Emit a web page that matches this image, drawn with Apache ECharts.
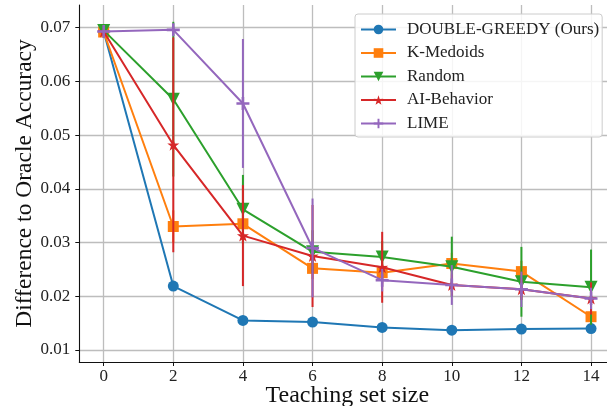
<!DOCTYPE html>
<html>
<head>
<meta charset="utf-8">
<script src="https://cdn.jsdelivr.net/npm/echarts@6/dist/echarts.min.js"></script>
<style>html,body{margin:0;padding:0;background:#fff}#c{width:607px;height:406px}</style>
</head>
<body>
<div id="c"></div>
<script>
// ---- data ----
const teachingSizes = [0, 2, 4, 6, 8, 10, 12, 14];
const xTicks = [0, 2, 4, 6, 8, 10, 12, 14];
const yTicks = [0.01, 0.02, 0.03, 0.04, 0.05, 0.06, 0.07];
const seriesNames = ['DOUBLE-GREEDY (Ours)', 'K-Medoids', 'Random', 'AI-Behavior', 'LIME'];
const doubleGreedy    = [0.0693, 0.0219, 0.0155, 0.0152, 0.0142, 0.0137, 0.0139, 0.0140];
const doubleGreedyErr = [0.0003, 0.0004, 0.0004, 0.0004, 0.0004, 0.0004, 0.0004, 0.0004];
const kMedoids        = [0.0692, 0.0330, 0.0335, 0.0252, 0.0244, 0.0261, 0.0246, 0.0162];
const kMedoidsErr     = [0.0003, 0.0030, 0.0030, 0.0020, 0.0020, 0.0020, 0.0020, 0.0006];
const random          = [0.0695, 0.0567, 0.0362, 0.0283, 0.0273, 0.0255, 0.0227, 0.0217];
const randomErr       = [0.0003, 0.0144, 0.0064, 0.0040, 0.0030, 0.0056, 0.0065, 0.0070];
const aiBehavior      = [0.0693, 0.0482, 0.0313, 0.0275, 0.0254, 0.0221, 0.0213, 0.0196];
const aiBehaviorErr   = [0.0003, 0.0200, 0.0094, 0.0095, 0.0066, 0.0020, 0.0020, 0.0030];
const lime            = [0.0693, 0.0696, 0.0559, 0.0290, 0.0230, 0.0221, 0.0213, 0.0196];
const limeErr         = [0.0003, 0.0005, 0.0120, 0.0092, 0.0021, 0.0037, 0.0033, 0.0020];

const means = [doubleGreedy, kMedoids, random, aiBehavior, lime];
const errs = [doubleGreedyErr, kMedoidsErr, randomErr, aiBehaviorErr, limeErr];
const colors = ['#1f77b4', '#ff7f0e', '#2ca02c', '#d62728', '#9467bd'];
const symbols = [
  'circle',
  'rect',
  'path://M0,0L10,0L5,9z',
  'path://M50,0L61.8,35.1L97.6,34.5L68.9,56.4L79.4,90.5L50,70L20.6,90.5L31.1,56.4L2.4,34.5L38.2,35.1z',
  'path://M4,0h2v4h4v2h-4v4h-2v-4h-4v-2h4z'
];
const symbolSizes = [11, 11, 13, 12, 13];

const serif = '"Liberation Serif", "DejaVu Serif", serif';
const series = [];
means.forEach((m, k) => {
  const c = colors[k];
  series.push({
    name: seriesNames[k] + ' err',
    type: 'custom',
    z: 2 + 2 * k,
    silent: true,
    data: teachingSizes.map((x, i) => [x, m[i] - errs[k][i], m[i] + errs[k][i]]),
    encode: { x: 0, y: [1, 2] },
    renderItem: function (params, api) {
      const a = api.coord([api.value(0), api.value(1)]);
      const b = api.coord([api.value(0), api.value(2)]);
      return { type: 'line', shape: { x1: a[0], y1: a[1], x2: b[0], y2: b[1] },
               style: { stroke: c, lineWidth: 2 } };
    }
  });
  series.push({
    name: seriesNames[k],
    type: 'line',
    z: 3 + 2 * k,
    data: teachingSizes.map((x, i) => [x, m[i]]),
    symbol: symbols[k],
    symbolSize: symbolSizes[k],
    showAllSymbol: true,
    lineStyle: { color: c, width: 2 },
    itemStyle: { color: c, opacity: 1 },
    emphasis: { disabled: true },
    animation: false
  });
});

const chart = echarts.init(document.getElementById('c'), null, { renderer: 'canvas' });
chart.setOption({
  animation: false,
  backgroundColor: '#fff',
  grid: { left: 79.3, top: 5, width: 536.1, bottom: 44, containLabel: false, outerBoundsMode: 'none' },
  xAxis: {
    type: 'value', min: -0.7, max: 14.7,
    name: 'Teaching set size', nameLocation: 'middle', nameGap: 22, nameMoveOverlap: false,
    nameTextStyle: { fontFamily: serif, fontSize: 24, color: '#111' },
    axisLine: { show: true, onZero: false, lineStyle: { color: '#111', width: 1.1 } },
    axisTick: { show: true, length: 4, customValues: xTicks, lineStyle: { color: '#111', width: 1 } },
    axisLabel: { customValues: xTicks, margin: 6, fontFamily: serif, fontSize: 17, color: '#222' },
    splitLine: { show: true, lineStyle: { color: '#bdbdbd', width: 1.3 } }
  },
  yAxis: {
    type: 'value', min: 0.00777, max: 0.07423,
    name: 'Difference to Oracle Accuracy', nameLocation: 'middle', nameGap: 42, nameMoveOverlap: false,
    nameTextStyle: { fontFamily: serif, fontSize: 23.5, color: '#111' },
    axisLine: { show: true, onZero: false, lineStyle: { color: '#111', width: 1.1 } },
    axisTick: { show: true, length: 4, customValues: yTicks, lineStyle: { color: '#111', width: 1 } },
    axisLabel: { customValues: yTicks, margin: 9, fontFamily: serif, fontSize: 17, color: '#222',
                 formatter: v => v.toFixed(2) },
    splitLine: { show: true, lineStyle: { color: '#bdbdbd', width: 1.3 } }
  },
  legend: {
    data: seriesNames,
    orient: 'vertical',
    left: 355, top: 14,
    padding: [7, 3, 5, 5],
    itemWidth: 35, itemHeight: 12, itemGap: 6.5,
    backgroundColor: 'rgba(255,255,255,0.85)',
    borderColor: '#cccccc', borderWidth: 1, borderRadius: 3,
    textStyle: { fontFamily: serif, fontSize: 17, color: '#222', lineHeight: 17, padding: [0, 0, 0, 6] },
    selectedMode: false
  },
  series: series
});
</script>
</body>
</html>
